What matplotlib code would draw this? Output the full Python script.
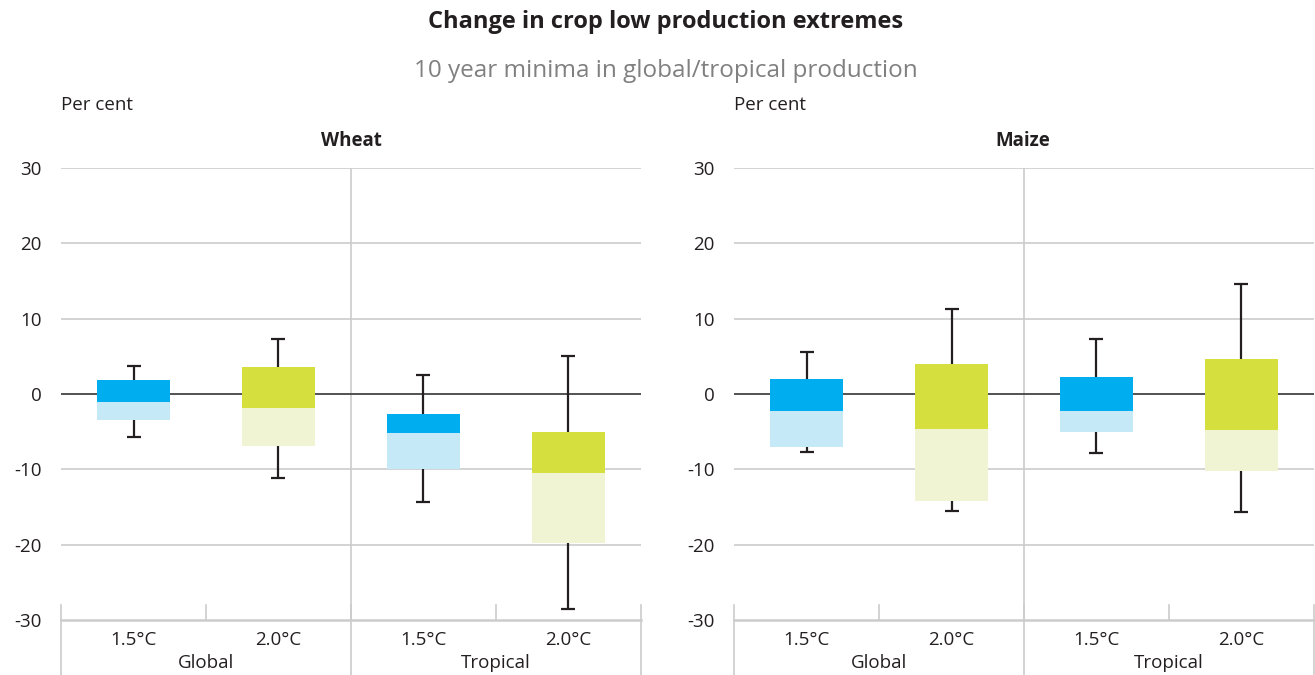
import matplotlib
matplotlib.use("Agg")
import matplotlib.pyplot as plt
import numpy as np

plt.rcParams['font.family'] = ['Open Sans', 'DejaVu Sans']

# Data (per cent)
categories = ["1.5°C", "2.0°C", "1.5°C", "2.0°C"]
groups = ["Global", "Tropical"]
crops = ["Wheat", "Maize"]

wheat_top = [1.8, 3.6, -2.6, -5.0]
wheat_mid = [-1.0, -1.8, -5.2, -10.5]
wheat_bot = [-3.5, -6.9, -9.9, -19.8]
wheat_hi = [3.7, 7.3, 2.5, 5.0]
wheat_lo = [-5.7, -11.2, -14.3, -28.5]

maize_top = [2.0, 4.0, 2.2, 4.6]
maize_mid = [-2.3, -4.7, -2.3, -4.8]
maize_bot = [-7.0, -14.2, -5.0, -10.2]
maize_hi = [5.6, 11.3, 7.3, 14.6]
maize_lo = [-7.7, -15.5, -7.8, -15.7]

dark = ["#00AEEF", "#D5DF3E", "#00AEEF", "#D5DF3E"]
light = ["#C6E9F8", "#F0F4D2", "#C6E9F8", "#F0F4D2"]
grid_col = "#CCCCCC"
txt = "#231F20"

fig = plt.figure(figsize=(13.15, 6.75), dpi=100)

fig.text(0.506, 0.967, "Change in crop low production extremes", ha="center", va="center",
         fontsize=17, fontweight="bold", color=txt)
fig.text(0.506, 0.895, "10 year minima in global/tropical production", ha="center", va="center",
         fontsize=17.5, color="#808080")

panels = [
    (0.0464, crops[0], wheat_top, wheat_mid, wheat_bot, wheat_hi, wheat_lo),
    (0.5582, crops[1], maize_top, maize_mid, maize_bot, maize_hi, maize_lo),
]

for left, name, top, mid, bot, hi, lo in panels:
    ax = fig.add_axes([left, 0.0815, 0.441, 0.6696])
    x = np.arange(len(categories)) + 0.5
    top = np.array(top); mid = np.array(mid); bot = np.array(bot)
    hi = np.array(hi); lo = np.array(lo)

    # whiskers
    ax.errorbar(x, mid, yerr=[mid - lo, hi - mid], fmt="none", ecolor=txt,
                elinewidth=1.6, capsize=5, capthick=1.6, zorder=3)
    # boxes: upper part dark, lower part light
    ax.bar(x, top - mid, bottom=mid, width=0.5, color=dark, zorder=4)
    ax.bar(x, mid - bot, bottom=bot, width=0.5, color=light, zorder=4)

    ax.set_xlim(0, 4)
    ax.set_ylim(-30, 30)
    ax.set_yticks([-30, -20, -10, 0, 10, 20, 30])
    ax.set_yticklabels(["-30", "-20", "-10", "0", "10", "20", "30"])
    for yv in [-20, -10, 10, 20, 30]:
        ax.axhline(yv, color=grid_col, lw=1.2, zorder=1)
    ax.axhline(0, color="#444444", lw=1.3, zorder=2)
    ax.axhline(-30, color=grid_col, lw=1.8, zorder=2, clip_on=False)
    ax.axvline(2, color=grid_col, lw=1.2, zorder=1)

    # category axis dividers below the plot
    for xv in [0, 2, 4]:
        ax.plot([xv, xv], [-28, -40], color=grid_col, lw=1.2, clip_on=False, zorder=1)
    for xv in [1, 3]:
        ax.plot([xv, xv], [-28, -30], color=grid_col, lw=1.2, clip_on=False, zorder=1)

    for s in ax.spines.values():
        s.set_visible(False)
    ax.tick_params(axis="y", length=0, labelsize=13.5, labelcolor=txt, pad=14)
    ax.set_xticks(x)
    ax.set_xticklabels(categories)
    ax.tick_params(axis="x", length=0, labelsize=13.5, labelcolor=txt, pad=8)
    for i, g in enumerate(groups):
        ax.text(1 + 2 * i, -0.095, g, transform=ax.get_xaxis_transform(),
                ha="center", va="center", fontsize=13.5, color=txt)

    ax.text(0.5 if name == "Wheat" else 0.497, 1.06, name, transform=ax.transAxes,
            ha="center", va="center", fontsize=13.5, fontweight="bold", color=txt)
    ax.text(0, 1.14, "Per cent", transform=ax.transAxes, ha="left", va="center",
            fontsize=13.5, color=txt)

fig.savefig("out.png", dpi=100)
